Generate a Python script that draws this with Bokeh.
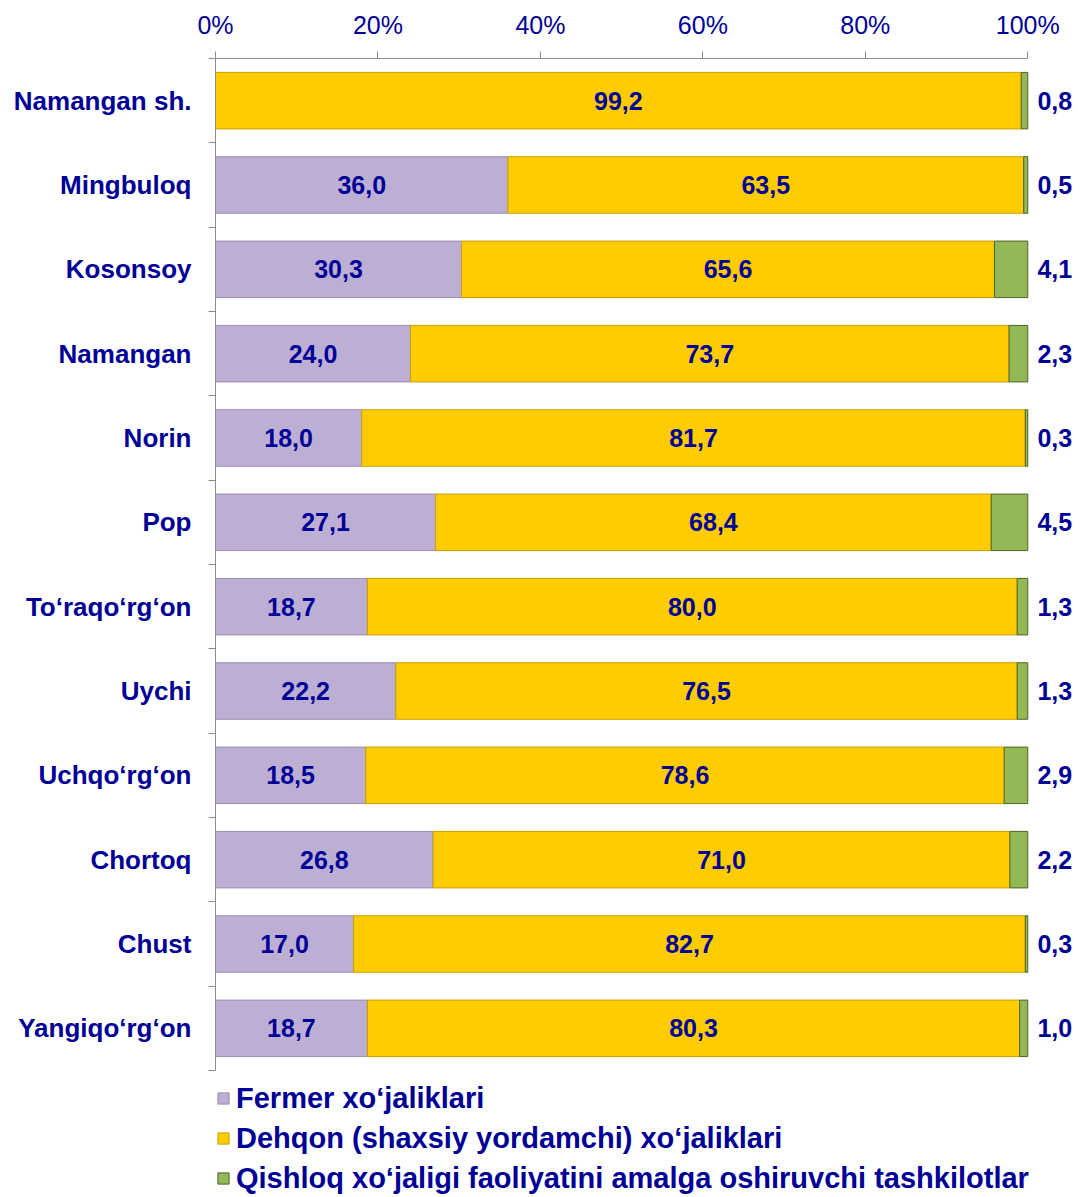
from bokeh.plotting import figure
from bokeh.models import (ColumnDataSource, Range1d, FixedTicker, Legend, LegendItem,
                          LabelSet)
from bokeh.core.properties import value
from bokeh.embed import file_html
from bokeh.resources import INLINE

categories = ["Namangan sh.", "Mingbuloq", "Kosonsoy", "Namangan", "Norin", "Pop",
              "To‘raqo‘rg‘on", "Uychi", "Uchqo‘rg‘on", "Chortoq", "Chust", "Yangiqo‘rg‘on"]
fermer = [0.0, 36.0, 30.3, 24.0, 18.0, 27.1, 18.7, 22.2, 18.5, 26.8, 17.0, 18.7]
dehqon = [99.2, 63.5, 65.6, 73.7, 81.7, 68.4, 80.0, 76.5, 78.6, 71.0, 82.7, 80.3]
tashkilot = [0.8, 0.5, 4.1, 2.3, 0.3, 4.5, 1.3, 1.3, 2.9, 2.2, 0.3, 1.0]
series_names = ["Fermer xo‘jaliklari",
                "Dehqon (shaxsiy yordamchi) xo‘jaliklari",
                "Qishloq xo‘jaligi faoliyatini amalga oshiruvchi tashkilotlar"]
tick_values = [0, 20, 40, 60, 80, 100]
tick_labels = ["0%", "20%", "40%", "60%", "80%", "100%"]

FONT = "Liberation Sans"
NAVY = "#000096"

def fmt(v):
    return ("%.1f" % v).replace(".", ",")

n = len(categories)
ypos = [i + 0.5 for i in range(n)]
f_right = fermer
d_left = fermer
d_right = [a + b for a, b in zip(fermer, dehqon)]
t_left = d_right
t_right = [a + b for a, b in zip(d_right, tashkilot)]

src = ColumnDataSource(dict(
    y=ypos, f_right=f_right, d_left=d_left, d_right=d_right, t_left=t_left, t_right=t_right,
    zero=[0.0] * n,
))

# layout (pixels)
W, Hc = 1080, 1196
LEFT, TOP = 215, 58
ROWS_PX = 1012            # height occupied by the category rows
FRAME_W = 861             # 0..106 on x
frame_h = Hc - TOP
y_extent = n * frame_h / ROWS_PX   # extra room below rows holds the legend

p = figure(width=W, height=Hc, output_backend="svg", toolbar_location=None,
           x_range=Range1d(0, 106), y_range=Range1d(y_extent, 0),
           x_axis_location="above",
           min_border_left=LEFT, min_border_right=W - LEFT - FRAME_W,
           min_border_top=TOP, min_border_bottom=0)
p.outline_line_color = None
p.grid.visible = False
p.background_fill_color = "white"

H = 0.67
r1 = p.hbar(y="y", left="zero", right="f_right", height=H, source=src,
            fill_color="#BDAED4", line_color="#9A8BB2", line_width=1)
r2 = p.hbar(y="y", left="d_left", right="d_right", height=H, source=src,
            fill_color="#FFCC00", line_color="#C9A000", line_width=1)
r3 = p.hbar(y="y", left="t_left", right="t_right", height=H, source=src,
            fill_color="#93B956", line_color="#4F6228", line_width=1)

# value labels
fl = [(fermer[i] / 2, ypos[i], fmt(fermer[i])) for i in range(n) if fermer[i] > 0]
dl = [(fermer[i] + dehqon[i] / 2, ypos[i], fmt(dehqon[i])) for i in range(n)]
tl = [(t_right[i], ypos[i], fmt(tashkilot[i])) for i in range(n)]

for data, xoff in ((fl, 0), (dl, 0), (tl, 27)):
    s = ColumnDataSource(dict(x=[d[0] for d in data], y=[d[1] for d in data],
                              t=[d[2] for d in data]))
    p.add_layout(LabelSet(x="x", y="y", text="t", source=s, x_offset=xoff,
                          text_align="center", text_baseline="middle",
                          text_font=value(FONT), text_font_style="bold",
                          text_font_size="25px", text_color=NAVY))

# top axis
xa = p.xaxis[0]
xa.ticker = FixedTicker(ticks=tick_values)
xa.bounds = (0, 100)
xa.major_label_overrides = {v: l for v, l in zip(tick_values, tick_labels)}
xa.major_label_text_font = FONT
xa.major_label_text_font_size = "25px"
xa.major_label_text_font_style = "normal"
xa.major_label_text_color = NAVY
xa.axis_line_color = "#8C8C8C"
xa.major_tick_line_color = "#8C8C8C"
xa.major_tick_out = 7
xa.major_tick_in = 0
xa.minor_tick_line_color = None
xa.major_label_standoff = 13

# left axis
ya = p.yaxis[0]
ya.ticker = FixedTicker(ticks=ypos, minor_ticks=list(range(n + 1)))
ya.bounds = (0, n)
ya.major_label_overrides = {y: c for y, c in zip(ypos, categories)}
ya.major_label_text_font = FONT
ya.major_label_text_font_size = "26px"
ya.major_label_text_font_style = "bold"
ya.major_label_text_color = NAVY
ya.axis_line_color = "#8C8C8C"
ya.major_tick_line_color = None
ya.major_tick_out = 0
ya.major_tick_in = 0
ya.minor_tick_line_color = "#8C8C8C"
ya.minor_tick_out = 7
ya.minor_tick_in = 0
ya.major_label_standoff = 17

legend = Legend(items=[LegendItem(label=series_names[0], renderers=[r1]),
                       LegendItem(label=series_names[1], renderers=[r2]),
                       LegendItem(label=series_names[2], renderers=[r3])],
                location=(1, 0), orientation="vertical",
                label_text_font=FONT, label_text_font_size="29px",
                label_text_font_style="bold", label_text_color=NAVY,
                glyph_width=14, glyph_height=14, label_standoff=6,
                label_height=36, spacing=4, padding=0, margin=0,
                border_line_color=None, background_fill_alpha=0)
p.add_layout(legend, "center")

open("out.html", "w").write(file_html(p, INLINE))
